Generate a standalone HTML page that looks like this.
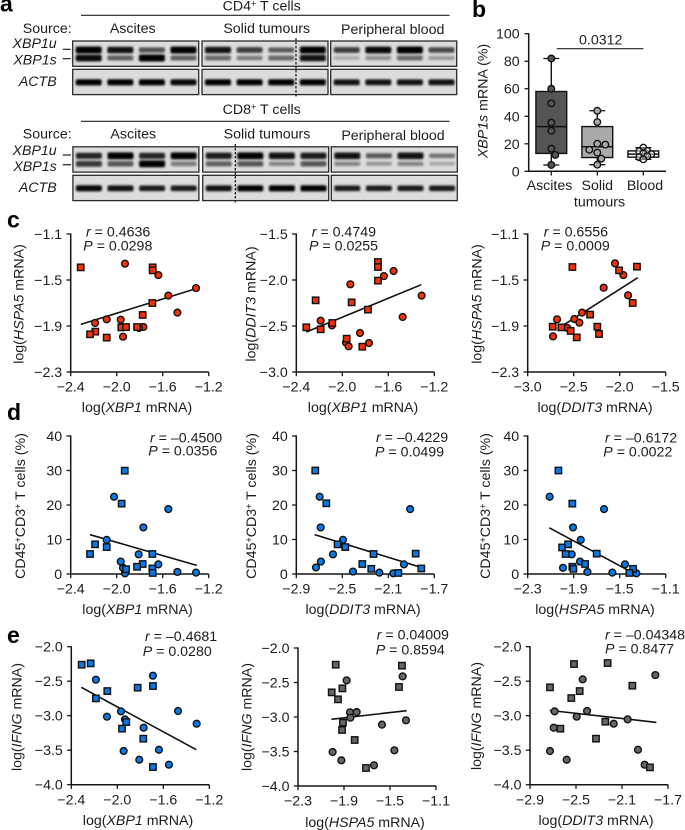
<!DOCTYPE html>
<html lang="en">
<head>
<meta charset="utf-8">
<title>XBP1 expression figure</title>
<style>
html,body{margin:0;padding:0;background:#fff;}
svg{display:block;}
text{font-family:"Liberation Sans",sans-serif;font-size:14.2px;fill:#1c1c1c;}
.i{font-style:italic;}
.letter{font-weight:bold;font-size:23px;fill:#000;}
.m{text-anchor:middle;}
.e{text-anchor:end;}
</style>
</head>
<body>
<svg id="fig" xmlns="http://www.w3.org/2000/svg" width="685" height="830" viewBox="0 0 685 830">
<defs><filter id="bandBlur" x="-20%" y="-100%" width="140%" height="300%"><feGaussianBlur stdDeviation="1"/></filter></defs>

<text class="letter" x="0" y="11.5">a</text>
<text class="letter" x="472" y="17">b</text>
<text class="letter" x="7" y="227.5">c</text>
<text class="letter" x="7" y="420">d</text>
<text class="letter" x="7" y="643">e</text>

<g id="blots"></g>
<g>
<text class="m" x="261.7" y="10.7">CD4<tspan font-size="9" dy="-4">+</tspan><tspan dy="4"> T cells</tspan></text>
<line x1="81" x2="449.5" y1="15.3" y2="15.3" stroke="#222" stroke-width="1.2"/>
<text class="e" x="71.7" y="33">Source:</text>
<text class="m" x="132.7" y="33">Ascites</text>
<text class="m" x="266.7" y="33">Solid tumours</text>
<text class="m" x="392.7" y="34">Peripheral blood</text>
<text class="e i" x="56.7" y="48">XBP1u</text>
<text class="e i" x="56.7" y="64.5">XBP1s</text>
<text class="e i" x="56.7" y="86">ACTB</text>
<line x1="62.7" x2="70.7" y1="49.3" y2="49.3" stroke="#222" stroke-width="1.2"/>
<line x1="62.7" x2="70.7" y1="58.7" y2="58.7" stroke="#222" stroke-width="1.2"/>

<text class="m" x="261.7" y="114">CD8<tspan font-size="9" dy="-4">+</tspan><tspan dy="4"> T cells</tspan></text>
<line x1="81" x2="449.5" y1="121.3" y2="121.3" stroke="#222" stroke-width="1.2"/>
<text class="e" x="71.7" y="138.7">Source:</text>
<text class="m" x="133.3" y="138.7">Ascites</text>
<text class="m" x="267" y="138.7">Solid tumours</text>
<text class="m" x="393" y="140">Peripheral blood</text>
<text class="e i" x="56.7" y="155">XBP1u</text>
<text class="e i" x="56.7" y="171">XBP1s</text>
<text class="e i" x="56.7" y="192">ACTB</text>
<line x1="62.7" x2="71" y1="155" y2="155" stroke="#222" stroke-width="1.2"/>
<line x1="62.7" x2="71" y1="164.7" y2="164.7" stroke="#222" stroke-width="1.2"/>
</g>

<text transform="translate(487.7,101) rotate(-90)" class="m"><tspan class="i">XBP1s</tspan> mRNA (%)</text>
<text class="m" x="549.5" y="190">Ascites</text>
<text class="m" x="597.3" y="190">Solid</text>
<text class="m" x="599.5" y="206.7">tumours</text>
<text class="m" x="645" y="190">Blood</text>
<line x1="556.7" x2="643.3" y1="48.7" y2="48.7" stroke="#222" stroke-width="1.2"/>
<text class="m" x="600.7" y="44.5">0.0312</text>

<!-- Panel c -->
<text transform="translate(23.3,304) rotate(-90)" class="m">log(<tspan class="i">HSPA5</tspan> mRNA)</text>
<text class="m" x="137" y="412">log(<tspan class="i">XBP1</tspan> mRNA)</text>
<text x="86" y="236.7"><tspan class="i">r</tspan> = 0.4636</text>
<text x="83.3" y="250.7"><tspan class="i">P</tspan> = 0.0298</text>

<text transform="translate(255.7,304) rotate(-90)" class="m">log(<tspan class="i">DDIT3</tspan> mRNA)</text>
<text class="m" x="363" y="412">log(<tspan class="i">XBP1</tspan> mRNA)</text>
<text x="311.7" y="236.7"><tspan class="i">r</tspan> = 0.4749</text>
<text x="309" y="250.7"><tspan class="i">P</tspan> = 0.0255</text>

<text transform="translate(481.7,304) rotate(-90)" class="m">log(<tspan class="i">HSPA5</tspan> mRNA)</text>
<text class="m" x="595" y="412">log(<tspan class="i">DDIT3</tspan> mRNA)</text>
<text x="543.7" y="236.7"><tspan class="i">r</tspan> = 0.6556</text>
<text x="540.7" y="250.7"><tspan class="i">P</tspan> = 0.0009</text>

<!-- Panel d -->
<text transform="translate(25,506) rotate(-90)" class="m">CD45<tspan font-size="9" dy="-4">+</tspan><tspan dy="4">CD3</tspan><tspan font-size="9" dy="-4">+</tspan><tspan dy="4"> T cells (%)</tspan></text>
<text class="m" x="137.5" y="614">log(<tspan class="i">XBP1</tspan> mRNA)</text>
<text x="150" y="442.7"><tspan class="i">r</tspan> = –0.4500</text>
<text x="148.3" y="455.7"><tspan class="i">P</tspan> = 0.0356</text>

<text transform="translate(256,506) rotate(-90)" class="m">CD45<tspan font-size="9" dy="-4">+</tspan><tspan dy="4">CD3</tspan><tspan font-size="9" dy="-4">+</tspan><tspan dy="4"> T cells (%)</tspan></text>
<text class="m" x="363" y="614">log(<tspan class="i">DDIT3</tspan> mRNA)</text>
<text x="376" y="442"><tspan class="i">r</tspan> = –0.4229</text>
<text x="375" y="456.7"><tspan class="i">P</tspan> = 0.0499</text>

<text transform="translate(490,506) rotate(-90)" class="m">CD45<tspan font-size="9" dy="-4">+</tspan><tspan dy="4">CD3</tspan><tspan font-size="9" dy="-4">+</tspan><tspan dy="4"> T cells (%)</tspan></text>
<text class="m" x="595" y="614">log(<tspan class="i">HSPA5</tspan> mRNA)</text>
<text x="605" y="442.7"><tspan class="i">r</tspan> = –0.6172</text>
<text x="603.3" y="456.7"><tspan class="i">P</tspan> = 0.0022</text>

<!-- Panel e -->
<text transform="translate(21.7,717) rotate(-90)" class="m">log(<tspan class="i">IFNG</tspan> mRNA)</text>
<text class="m" x="138" y="825">log(<tspan class="i">XBP1</tspan> mRNA)</text>
<text x="145" y="641"><tspan class="i">r</tspan> = –0.4681</text>
<text x="142.7" y="656"><tspan class="i">P</tspan> = 0.0280</text>

<text transform="translate(251.7,717) rotate(-90)" class="m">log(<tspan class="i">IFNG</tspan> mRNA)</text>
<text class="m" x="365" y="827">log(<tspan class="i">HSPA5</tspan> mRNA)</text>
<text x="376.7" y="639.3"><tspan class="i">r</tspan> = 0.04009</text>
<text x="375.7" y="654.3"><tspan class="i">P</tspan> = 0.8594</text>

<text transform="translate(481,716) rotate(-90)" class="m">log(<tspan class="i">IFNG</tspan> mRNA)</text>
<text class="m" x="596" y="825">log(<tspan class="i">DDIT3</tspan> mRNA)</text>
<text x="605" y="639.3"><tspan class="i">r</tspan> = –0.04348</text>
<text x="605" y="653.3"><tspan class="i">P</tspan> = 0.8477</text>
</svg>

<script>
// ---- Panel c data ----
const xbp1Ticks = [-2.4, -2.0, -1.6, -1.2];
const ddit3WideTicks = [-3.0, -2.5, -2.0, -1.5];
const ddit3NarrowTicks = [-2.9, -2.5, -2.1, -1.7];
const hspa5Ticks = [-2.3, -1.9, -1.5, -1.1];
const hspa5YTicks = [-1.1, -1.5, -1.9, -2.3];
const ddit3YTicks = [-1.5, -2.0, -2.5, -3.0];
const percentTicks = [40, 30, 20, 10, 0];
const ifngTicks = [-2.0, -2.5, -3.0, -3.5, -4.0];

const c1SquareX = [-2.313, -1.687, -1.687, -1.69, -1.774, -1.96, -1.919, -1.823, -2.186, -2.232, -2.087];
const c1SquareY = [-1.39, -1.39, -1.416, -1.70, -1.804, -1.912, -1.909, -1.909, -1.949, -1.972, -2.001];
const c1CircleX = [-1.928, -1.638, -1.31, -1.551, -1.472, -2.188, -2.087, -1.965, -1.768, -1.806, -1.945];
const c1CircleY = [-1.358, -1.457, -1.57, -1.636, -1.784, -1.874, -1.842, -1.845, -1.909, -1.917, -1.993];
const c1FitX = [-2.313, -1.31];
const c1FitY = [-1.886, -1.575];

const c2SquareX = [-2.313, -2.232, -2.188, -2.087, -1.962, -1.919, -1.826, -1.777, -1.69, -1.69, -1.69];
const c2SquareY = [-2.514, -2.221, -2.536, -2.467, -2.638, -2.243, -2.725, -2.322, -1.804, -1.859, -2.007];
const c2CircleX = [-2.188, -2.09, -1.968, -1.93, -1.945, -1.846, -1.768, -1.638, -1.554, -1.475, -1.31];
const c2CircleY = [-2.442, -2.493, -2.681, -2.047, -2.721, -2.576, -2.685, -1.957, -1.902, -2.402, -2.17];
const c2FitX = [-2.313, -1.313];
const c2FitY = [-2.565, -2.051];

const c3SquareX = [-2.728, -2.634, -2.533, -2.514, -2.467, -2.322, -2.243, -2.225, -2.007, -1.859, -1.812];
const c3SquareY = [-1.906, -1.912, -1.943, -1.387, -1.999, -1.801, -1.906, -1.97, -1.416, -1.70, -1.384];
const c3CircleX = [-2.725, -2.681, -2.569, -2.493, -2.438, -2.409, -2.174, -2.051, -1.96, -1.909];
const c3CircleY = [-1.99, -1.842, -1.917, -1.839, -1.871, -1.784, -1.567, -1.355, -1.457, -1.633];
const c3FitX = [-2.594, -1.804];
const c3FitY = [-1.883, -1.48];

// ---- Panel d data ----
const d1SquareX = [-1.93, -1.957, -2.087, -2.188, -2.232, -1.69, -1.774, -1.823, -1.919, -1.69, -1.687];
const d1SquareY = [29.95, 20.4, 7.8, 8.6, 5.8, 5.8, 2.9, 2.1, 1.4, 1.6, 0.3];
const d1CircleX = [-2.023, -1.551, -1.768, -2.087, -1.809, -1.965, -1.945, -1.638, -1.928, -1.472, -1.31];
const d1CircleY = [22.4, 18.8, 13.5, 9.9, 5.7, 3.6, 1.8, 2.8, 0.2, 0.6, 0.4];
const d1FitX = [-2.232, -1.304];
const d1FitY = [11.4, 2.5];

const d2SquareX = [-2.735, -2.639, -2.541, -2.474, -2.228, -2.326, -2.248, -2.013, -1.862, -1.813];
const d2SquareY = [30, 20.5, 8.6, 7.8, 5.8, 2.9, 1.5, 0.3, 5.9, 1.6];
const d2CircleX = [-2.697, -2.688, -2.494, -2.581, -2.686, -2.729, -2.407, -2.178, -2.057, -1.964, -1.91];
const d2CircleY = [22.4, 13.5, 9.9, 5.7, 3.6, 1.9, 0.7, 0.4, 0.2, 2.8, 18.8];
const d2FitX = [-2.741, -1.813];
const d2FitY = [11.4, 1.9];

const d3SquareX = [-2.033, -1.912, -2.001, -1.949, -1.97, -1.7, -1.912, -1.903, -1.801, -1.384, -1.416];
const d3SquareY = [30, 20.4, 7.7, 8.6, 5.8, 5.9, 2.1, 1.5, 2.9, 1.5, 0.3];
const d3CircleX = [-2.109, -1.636, -1.906, -1.839, -1.917, -1.845, -1.993, -1.781, -1.564, -1.454, -1.355];
const d3CircleY = [22.4, 18.8, 13.5, 9.9, 5.7, 3.6, 1.8, 0.6, 0.4, 2.8, 0.2];
const d3FitX = [-2.112, -1.4];
const d3FitY = [13.4, 0.6];

// ---- Panel e data ----
const e1SquareX = [-2.31, -2.232, -2.186, -2.087, -1.959, -1.922, -1.823, -1.774, -1.69, -1.69];
const e1SquareY = [-2.261, -2.242, -2.749, -2.643, -3.188, -3.092, -2.594, -3.333, -2.57, -3.744];
const e1CircleX = [-2.186, -2.09, -1.968, -1.933, -1.945, -1.809, -1.771, -1.69, -1.638, -1.551, -1.472, -1.31];
const e1CircleY = [-2.478, -3.014, -2.937, -3.053, -3.512, -3.638, -3.174, -2.42, -3.493, -3.71, -2.932, -3.116];
const e1FitX = [-2.313, -1.313];
const e1FitY = [-2.589, -3.493];

const e2SquareX = [-1.972, -2.007, -1.952, -1.914, -1.909, -1.917, -1.807, -1.709, -1.422, -1.396];
const e2SquareY = [-2.242, -2.643, -2.744, -2.585, -3.082, -3.188, -3.333, -3.739, -2.565, -2.256];
const e2CircleX = [-1.877, -1.848, -1.845, -1.79, -1.999, -1.923, -1.639, -1.57, -1.462, -1.361, -1.39];
const e2CircleY = [-2.469, -2.932, -3.01, -2.928, -3.507, -3.628, -3.7, -3.111, -3.483, -3.048, -2.411];
const e2FitX = [-2.01, -1.355];
const e2FitY = [-3.034, -2.908];

const e3SquareX = [-2.726, -2.541, -2.517, -2.468, -2.636, -2.326, -2.245, -2.225, -2.01, -1.857];
const e3SquareY = [-2.589, -2.744, -2.251, -2.643, -3.188, -3.333, -3.087, -2.237, -2.565, -3.749];
const e3CircleX = [-2.686, -2.694, -2.726, -2.581, -2.494, -2.442, -2.404, -2.172, -2.051, -1.961, -1.903, -1.81];
const e3CircleY = [-2.937, -3.174, -3.512, -3.638, -3.014, -2.473, -2.932, -3.116, -3.053, -3.493, -3.71, -2.411];
const e3FitX = [-2.729, -1.801];
const e3FitY = [-2.923, -3.097];

// ---- Panel b data ----
const boxCategories = ['ascites', 'solid', 'blood'];
const boxLow = [4.6, 4.8, 8.7];
const boxQ1 = [13, 10, 10.3];
const boxMedian = [32.5, 17.8, 12.5];
const boxQ3 = [58, 32.5, 14.8];
const boxHigh = [82, 44, 17.2];
const ascitesPoints = [82, 60, 49.4, 35.4, 29.5, 16.5, 11.9, 4.6];
const solidPoints = [44, 35.8, 20, 13.6, 19.4, 15.7, 9.2, 4.8];
const bloodPoints = [17.2, 14.8, 14.6, 13, 12.5, 11, 10.2, 8.7];
const boxYTicks = [100, 80, 60, 40, 20, 0];

// ---- Panel a band intensities (panel -> lane) ----
const cd4Unspliced = [[1, .9, .55, 1], [.9, .65, .5, 1], [.65, .95, 1, .6]];
const cd4Spliced = [[.95, .5, 1, .5], [.45, .35, .45, .9], [.1, .25, .45, .2]];
const cd4Actin = [[1, 1, 1, .95], [1, 1, 1, 1], [.9, .9, .9, .9]];
const cd8Unspliced = [[.8, 1, .8, 1], [.85, 1, .9, .85], [.9, .5, .9, .35]];
const cd8Spliced = [[.7, .55, 1, .35], [.5, .55, .3, .55], [.3, .2, .3, .12]];
const cd8Actin = [[.95, .9, .85, .85], [.9, 1, 1, 1], [.85, .85, .85, .85]];

const SVGNS = 'http://www.w3.org/2000/svg';
const fig = document.getElementById('fig');
const INK = '#161616';

function make(tag, attrs, parent) {
  const node = document.createElementNS(SVGNS, tag);
  for (const k in attrs) node.setAttribute(k, attrs[k]);
  (parent || fig).appendChild(node);
  return node;
}
function tickText(v, decimals) {
  const s = Math.abs(v).toFixed(decimals);
  return (v < 0 ? '\u2212' : '') + s;
}

function drawBlotPanel(group, prefix, left, top, width, height, values, centre, thick) {
  const bg = make('rect', {x: left, y: top, width: width, height: height, fill: '#dcdcdc', stroke: '#2a2a2a', 'stroke-width': 1.3}, group);
  
  
  values.forEach(function (level, lane) {
    const h = thick * (0.55 + 0.6 * level);
    const band = make('rect', {
      x: left + 3 + lane * 31.6, y: top + centre - h / 2, width: 26, height: h, rx: 1.8,
      fill: '#050505', opacity: 0.2 + 0.8 * level, filter: 'url(#bandBlur)'
    }, group);
    
    
  });
}

function drawBlotSet(prefix, lefts, topA, topB, unspliced, spliced, actin) {
  const group = document.getElementById('blots');
  lefts.forEach(function (left, i) {
    drawBlotPanel(group, prefix + '-xbp1', left, topA, 126, 25.3, unspliced[i], 9, 6);
    const bandsS = make('g', {}, group);
    
    
    spliced[i].forEach(function (level, lane) {
      const h = 6 * (0.55 + 0.6 * level);
      const band = make('rect', {
        x: left + 3 + lane * 31.6, y: topA + 17 - h / 2, width: 26, height: h, rx: 1.8,
        fill: '#050505', opacity: 0.14 + 0.86 * level, filter: 'url(#bandBlur)'
      }, bandsS);
      
      
    });
    drawBlotPanel(group, prefix + '-actb', left, topB, 126, 25.3, actin[i], 13, 5.4);
  });
}

drawBlotSet('cd4', [72.7, 202, 330.7], 41, 69.3, cd4Unspliced, cd4Spliced, cd4Actin);
drawBlotSet('cd8', [72.9, 202.7, 331.3], 146.8, 175.3, cd8Unspliced, cd8Spliced, cd8Actin);

const cutCd4 = make('line', {x1: 296, x2: 296, y1: 38, y2: 98, stroke: '#000', 'stroke-width': 1.1, 'stroke-dasharray': '2.5 1.5'});


const cutCd8 = make('line', {x1: 235.3, x2: 235.3, y1: 144, y2: 203.5, stroke: '#000', 'stroke-width': 1.1, 'stroke-dasharray': '2.5 1.5'});



function drawScatter(p) {
  const g = make('g', {});
  
  
  const sx = function (v) { return p.x0 + (v - p.xDomain[0]) / (p.xDomain[1] - p.xDomain[0]) * (p.x1 - p.x0); };
  const sy = function (v) { return p.yBottom + (v - p.yDomain[0]) / (p.yDomain[1] - p.yDomain[0]) * (p.yTop - p.yBottom); };

  const xAxis = make('line', {x1: p.x0, x2: p.x1, y1: p.yBottom, y2: p.yBottom, stroke: INK, 'stroke-width': 1.5}, g);
  
  
  const yAxis = make('line', {x1: p.x0, x2: p.x0, y1: p.yTop - .6, y2: p.yBottom + .6, stroke: INK, 'stroke-width': 1.5}, g);
  
  

  p.xTicks.forEach(function (t) {
    const tick = make('line', {x1: sx(t), x2: sx(t), y1: p.yBottom, y2: p.yBottom + 4.2, stroke: INK, 'stroke-width': 1.3}, g);
    
    
    const label = make('text', {x: sx(t), y: p.yBottom + 19.6, 'text-anchor': 'middle'}, g);
    
    
    label.textContent = tickText(t, 1);
  });
  p.yTicks.forEach(function (t) {
    const tick = make('line', {x1: p.x0 - 4.2, x2: p.x0, y1: sy(t), y2: sy(t), stroke: INK, 'stroke-width': 1.3}, g);
    
    
    const label = make('text', {x: p.x0 - 8.5, y: sy(t) + 5, 'text-anchor': 'end'}, g);
    
    
    label.textContent = tickText(t, p.yDecimals);
  });

  const fit = make('line', {x1: sx(p.fitX[0]), y1: sy(p.fitY[0]), x2: sx(p.fitX[1]), y2: sy(p.fitY[1]), stroke: '#111', 'stroke-width': 1.6}, g);
  
  

  p.circleX.forEach(function (x, i) {
    const c = make('circle', {cx: sx(x), cy: sy(p.circleY[i]), r: 3.4, fill: p.color, stroke: '#111', 'stroke-width': 1.4}, g);
    
    
  });
  p.squareX.forEach(function (x, i) {
    const s = make('rect', {x: sx(x) - 3.2, y: sy(p.squareY[i]) - 3.2, width: 6.4, height: 6.4, fill: p.color, stroke: '#111', 'stroke-width': 1.4}, g);
    
    
  });
}

const RED = '#f2300a';
const BLUE = '#0a78e6';
const GREY = '#666666';

drawScatter({name: 'c1', x0: 70.7, x1: 208.7, yTop: 234, yBottom: 372, xDomain: [-2.4, -1.2], yDomain: [-2.3, -1.1], xTicks: xbp1Ticks, yTicks: hspa5YTicks, yDecimals: 1, squareX: c1SquareX, squareY: c1SquareY, circleX: c1CircleX, circleY: c1CircleY, fitX: c1FitX, fitY: c1FitY, color: RED});
drawScatter({name: 'c2', x0: 296.3, x1: 434.3, yTop: 234, yBottom: 372, xDomain: [-2.4, -1.2], yDomain: [-3.0, -1.5], xTicks: xbp1Ticks, yTicks: ddit3YTicks, yDecimals: 1, squareX: c2SquareX, squareY: c2SquareY, circleX: c2CircleX, circleY: c2CircleY, fitX: c2FitX, fitY: c2FitY, color: RED});
drawScatter({name: 'c3', x0: 527.7, x1: 665.7, yTop: 234, yBottom: 372, xDomain: [-3.0, -1.5], yDomain: [-2.3, -1.1], xTicks: ddit3WideTicks, yTicks: hspa5YTicks, yDecimals: 1, squareX: c3SquareX, squareY: c3SquareY, circleX: c3CircleX, circleY: c3CircleY, fitX: c3FitX, fitY: c3FitY, color: RED});

drawScatter({name: 'd1', x0: 70.7, x1: 208.7, yTop: 436, yBottom: 574, xDomain: [-2.4, -1.2], yDomain: [0, 40], xTicks: xbp1Ticks, yTicks: percentTicks, yDecimals: 0, squareX: d1SquareX, squareY: d1SquareY, circleX: d1CircleX, circleY: d1CircleY, fitX: d1FitX, fitY: d1FitY, color: BLUE});
drawScatter({name: 'd2', x0: 296.3, x1: 434.3, yTop: 436, yBottom: 574, xDomain: [-2.9, -1.7], yDomain: [0, 40], xTicks: ddit3NarrowTicks, yTicks: percentTicks, yDecimals: 0, squareX: d2SquareX, squareY: d2SquareY, circleX: d2CircleX, circleY: d2CircleY, fitX: d2FitX, fitY: d2FitY, color: BLUE});
drawScatter({name: 'd3', x0: 527.7, x1: 665.7, yTop: 436, yBottom: 574, xDomain: [-2.3, -1.1], yDomain: [0, 40], xTicks: hspa5Ticks, yTicks: percentTicks, yDecimals: 0, squareX: d3SquareX, squareY: d3SquareY, circleX: d3CircleX, circleY: d3CircleY, fitX: d3FitX, fitY: d3FitY, color: BLUE});

drawScatter({name: 'e1', x0: 71.3, x1: 209.3, yTop: 646.7, yBottom: 784.7, xDomain: [-2.4, -1.2], yDomain: [-4, -2], xTicks: xbp1Ticks, yTicks: ifngTicks, yDecimals: 1, squareX: e1SquareX, squareY: e1SquareY, circleX: e1CircleX, circleY: e1CircleY, fitX: e1FitX, fitY: e1FitY, color: BLUE});
drawScatter({name: 'e2', x0: 298, x1: 436, yTop: 648, yBottom: 786, xDomain: [-2.3, -1.1], yDomain: [-4, -2], xTicks: hspa5Ticks, yTicks: ifngTicks, yDecimals: 1, squareX: e2SquareX, squareY: e2SquareY, circleX: e2CircleX, circleY: e2CircleY, fitX: e2FitX, fitY: e2FitY, color: GREY});
drawScatter({name: 'e3', x0: 530, x1: 668, yTop: 646.7, yBottom: 784.7, xDomain: [-2.9, -1.7], yDomain: [-4, -2], xTicks: ddit3NarrowTicks, yTicks: ifngTicks, yDecimals: 1, squareX: e3SquareX, squareY: e3SquareY, circleX: e3CircleX, circleY: e3CircleY, fitX: e3FitX, fitY: e3FitY, color: GREY});

function drawBoxPanel() {
  const g = make('g', {});
  
  
  const left = 528.7, right = 666, top = 33.7, bottom = 171.3;
  const sy = function (v) { return bottom + v / 100 * (top - bottom); };
  const catX = function (i) { return 551.3 + i * 46; };
  const fills = ['#555555', '#aaaaaa', '#ffffff'];
  const series = [ascitesPoints, solidPoints, bloodPoints];
  const clearance = [7.15, 7.15, 4.4];

  const yAxis = make('line', {x1: left, x2: left, y1: top - .6, y2: bottom + .6, stroke: INK, 'stroke-width': 1.5}, g);
  
  
  const xAxis = make('line', {x1: left, x2: right, y1: bottom, y2: bottom, stroke: INK, 'stroke-width': 1.5}, g);
  
  

  boxYTicks.forEach(function (t) {
    const tick = make('line', {x1: left - 4.2, x2: left, y1: sy(t), y2: sy(t), stroke: INK, 'stroke-width': 1.3}, g);
    
    
    const label = make('text', {x: left - 9, y: sy(t) + 5, 'text-anchor': 'end'}, g);
    
    
    label.textContent = tickText(t, 0);
  });

  boxCategories.forEach(function (cat, i) {
    const cx = catX(i), half = 15.4, cap = 8;
    const tick = make('line', {x1: cx, x2: cx, y1: bottom, y2: bottom + 4.2, stroke: INK, 'stroke-width': 1.3}, g);
    
    
    const whisker = make('line', {x1: cx, x2: cx, y1: sy(boxLow[i]), y2: sy(boxHigh[i]), stroke: '#111', 'stroke-width': 1.4}, g);
    
    
    const capLow = make('line', {x1: cx - cap, x2: cx + cap, y1: sy(boxLow[i]), y2: sy(boxLow[i]), stroke: '#111', 'stroke-width': 1.3}, g);
    
    
    const capHigh = make('line', {x1: cx - cap, x2: cx + cap, y1: sy(boxHigh[i]), y2: sy(boxHigh[i]), stroke: '#111', 'stroke-width': 1.3}, g);
    
    
    const box = make('rect', {x: cx - half, y: sy(boxQ3[i]), width: half * 2, height: sy(boxQ1[i]) - sy(boxQ3[i]), fill: fills[i], stroke: '#111', 'stroke-width': 1.4}, g);
    
    
    const median = make('line', {x1: cx - half, x2: cx + half, y1: sy(boxMedian[i]), y2: sy(boxMedian[i]), stroke: '#111', 'stroke-width': 1.5}, g);
    
    

    const placed = [];
    series[i].forEach(function (v) {
      const y = sy(v);
      const candidates = [0, 4, -4, 8, -8, 12, -12];
      let off = candidates[candidates.length - 1];
      for (let c = 0; c < candidates.length; c++) {
        const clash = placed.some(function (q) { return Math.hypot(q[0] - candidates[c], q[1] - y) < clearance[i]; });
        if (!clash) { off = candidates[c]; break; }
      }
      placed.push([off, y]);
      const pt = make('circle', {cx: cx + off, cy: y, r: 3.3, fill: i === 2 ? '#fff' : fills[i], 'fill-opacity': i === 2 ? 0.45 : 1, stroke: '#111', 'stroke-width': 1.35}, g);
      
      
    });
  });
}
drawBoxPanel();
</script>
</body>
</html>
